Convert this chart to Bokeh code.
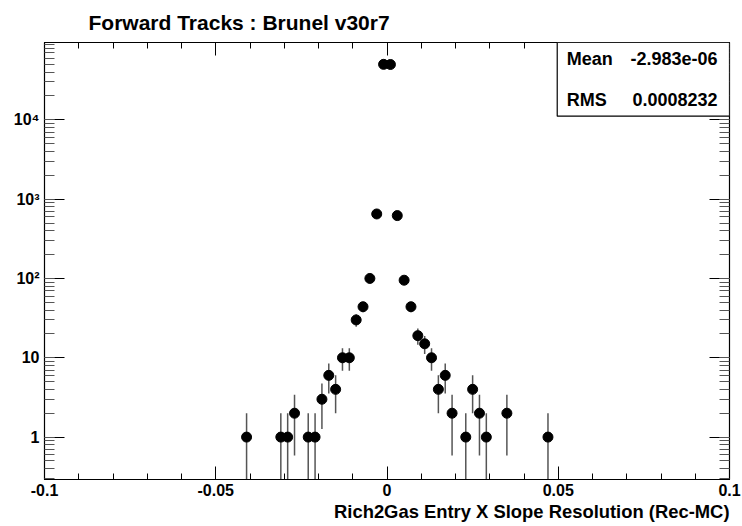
import numpy as np
from bokeh.plotting import figure
from bokeh.models import (Range1d, LogAxis, LinearAxis, SingleIntervalTicker,
                          LogTicker, BoxAnnotation, Label, ColumnDataSource,
                          CustomJSTickFormatter, Title)
from bokeh.embed import file_html
from bokeh.resources import INLINE

# ---- data ----
bin_centers = [-0.041, -0.031, -0.029, -0.027, -0.023, -0.021, -0.019, -0.017,
               -0.015, -0.013, -0.011, -0.009, -0.007, -0.005, -0.003, -0.001,
               0.001, 0.003, 0.005, 0.007, 0.009, 0.011, 0.013, 0.015, 0.017,
               0.019, 0.023, 0.025, 0.027, 0.029, 0.035, 0.047]
counts = [1, 1, 1, 2, 1, 1, 3, 6,
          4, 10, 10, 30, 44, 100, 650, 50000,
          49800, 620, 95, 44, 19, 15, 10, 4, 6,
          2, 1, 4, 2, 1, 2, 1]

x_tick_values = [-0.1, -0.05, 0.0, 0.05, 0.1]
x_tick_labels = ["-0.1", "-0.05", "0", "0.05", "0.1"]
y_tick_values = [1, 10, 100, 1000, 10000]
y_tick_labels = ["1", "10", "10\u00b2", "10\u00b3", "10\u2074"]

title_text = "Forward Tracks : Brunel v30r7"
x_label = "Rich2Gas Entry X Slope Resolution (Rec-MC)"
stat_names = ["Mean", "RMS"]
stat_values = ["-2.983e-06", "0.0008232"]

FONT = "Liberation Sans"

n = np.array(counts, dtype=float)
err = np.sqrt(n)
lo = np.where(n - err > 0, n - err, 1e-3)
hi = n + err
src = ColumnDataSource(dict(x=bin_centers, y=counts, lo=lo, hi=hi))

p = figure(width=742, height=526, y_axis_type="log",
           x_range=Range1d(-0.1, 0.1), y_range=Range1d(0.292, 94300),
           output_backend="svg", toolbar_location=None,
           min_border_left=44, min_border_right=13,
           min_border_top=40, min_border_bottom=47)
p.background_fill_color = "white"
p.border_fill_color = "white"
p.outline_line_color = "black"
p.outline_line_width = 1.2
p.xgrid.visible = False
p.ygrid.visible = False

# title
p.title.text = title_text
p.title.text_font = FONT
p.title.text_font_style = "bold"
p.title.text_font_size = "21px"
p.title.text_color = "black"
p.title.align = "left"
p.title.offset = 44
p.title.standoff = 17

# x axis
xt = SingleIntervalTicker(interval=0.05, num_minor_ticks=5)
xa = p.xaxis[0]
xa.ticker = xt
xa.major_label_overrides = dict(zip(x_tick_values, x_tick_labels))
xa.major_tick_in = 13
xa.major_tick_out = 0
xa.minor_tick_in = 6
xa.minor_tick_out = 0
xa.major_tick_line_color = "black"
xa.minor_tick_line_color = "black"
xa.axis_line_color = "black"
xa.major_label_standoff = 4
xa.major_label_text_font = FONT
xa.major_label_text_font_style = "bold"
xa.major_label_text_font_size = "16px"
xa.major_label_text_color = "black"

# x axis title, right aligned
xtitle = Title(text=x_label, align="right", standoff=0, offset=0,
               text_font=FONT, text_font_style="bold", text_font_size="18.4px",
               text_color="black")
p.add_layout(xtitle, "below")

# y axis
yt = LogTicker(mantissas=[1], num_minor_ticks=10)
ya = p.yaxis[0]
ya.ticker = yt
ya.major_label_overrides = dict(zip([float(v) for v in y_tick_values], y_tick_labels))
ya.major_tick_in = 20
ya.major_tick_out = 0
ya.minor_tick_in = 10
ya.minor_tick_out = 0
ya.major_tick_line_color = "black"
ya.minor_tick_line_color = "#555555"
ya.axis_line_color = "black"
ya.major_label_standoff = 5
ya.major_label_text_font = FONT
ya.major_label_text_font_style = "bold"
ya.major_label_text_font_size = "16px"
ya.major_label_text_color = "black"

# mirrored axes (ticks only)
blank = CustomJSTickFormatter(code="return ''")
ra = LogAxis(ticker=yt, formatter=blank, major_tick_in=20, major_tick_out=0,
             minor_tick_in=10, minor_tick_out=0, major_label_standoff=0,
             axis_line_color="black", major_tick_line_color="black",
             minor_tick_line_color="#555555")
p.add_layout(ra, "right")
ta = LinearAxis(ticker=xt, formatter=blank, major_tick_in=13, major_tick_out=0,
                minor_tick_in=6, minor_tick_out=0, major_label_standoff=0,
                axis_line_color="black", major_tick_line_color="black",
                minor_tick_line_color="black")
p.add_layout(ta, "above")

# error bars and points
p.segment(x0="x", y0="lo", x1="x", y1="hi", source=src,
          line_color="#555555", line_width=1.5)
p.scatter(x="x", y="y", source=src, size=10, marker="circle",
          fill_color="black", line_color="black")

# stats box
box = BoxAnnotation(left=0.0497, bottom=11100, fill_color="white", fill_alpha=1.0,
                    line_color="black", line_width=1.2, line_alpha=1.0)
p.add_layout(box)
for name, val, yy in zip(stat_names, stat_values, [58500, 17900]):
    p.add_layout(Label(x=0.0525, y=yy, text=name, text_font=FONT,
                       text_font_style="bold", text_font_size="18px",
                       text_baseline="middle", text_align="left", text_color="black"))
    p.add_layout(Label(x=0.0965, y=yy, text=val, text_font=FONT,
                       text_font_style="bold", text_font_size="18px",
                       text_baseline="middle", text_align="right", text_color="black"))

open("out.html", "w").write(file_html(p, INLINE))
